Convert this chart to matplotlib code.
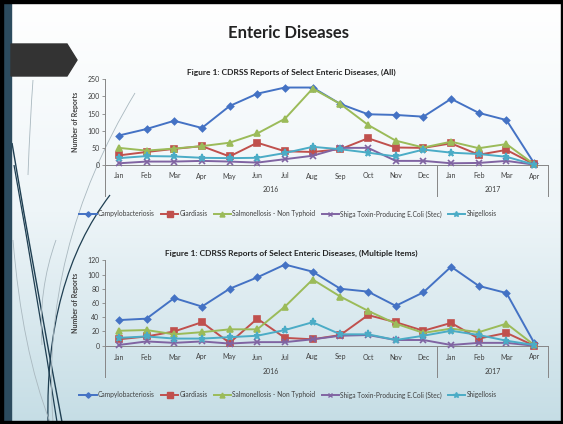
import numpy as np
import matplotlib
matplotlib.use("Agg")
import matplotlib.pyplot as plt
from matplotlib.path import Path
from matplotlib.patches import PathPatch, Polygon, Rectangle
from matplotlib.lines import Line2D

plt.rcParams['font.family'] = ['Lato', 'DejaVu Sans']

months = ["Jan", "Feb", "Mar", "Apr", "May", "Jun", "Jul", "Aug",
          "Sep", "Oct", "Nov", "Dec", "Jan", "Feb", "Mar", "Apr"]
years = ["2016", "2017"]
year_len = [12, 4]
series_names = ["Campylobacteriosis", "Giardiasis", "Salmonellosis - Non Typhoid",
                "Shiga Toxin-Producing E.Coli (Stec)", "Shigellosis"]

# Figure 1 (All)
all_campy = [86, 105, 129, 108, 172, 208, 226, 226, 178, 148, 146, 141, 193, 152, 131, 5]
all_giard = [28, 38, 47, 55, 25, 65, 40, 38, 46, 78, 51, 50, 63, 30, 44, 2]
all_salmo = [50, 42, 48, 55, 65, 92, 135, 223, 178, 117, 71, 51, 68, 49, 61, 2]
all_shiga = [5, 10, 10, 12, 10, 7, 17, 27, 50, 50, 12, 12, 5, 6, 12, 1]
all_shige = [20, 26, 25, 21, 20, 21, 35, 53, 46, 36, 25, 45, 36, 32, 24, 1]

# Figure 1 (Multiple Items)
multi_campy = [36, 38, 67, 55, 80, 96, 114, 104, 80, 76, 56, 75, 111, 84, 74, 4]
multi_giard = [9, 13, 20, 33, 4, 38, 11, 9, 15, 43, 33, 21, 32, 10, 18, 0]
multi_salmo = [21, 22, 16, 19, 23, 23, 55, 93, 69, 49, 31, 18, 24, 19, 31, 1]
multi_shiga = [1, 6, 4, 6, 3, 5, 5, 9, 14, 15, 8, 8, 1, 4, 4, 0]
multi_shige = [11, 13, 10, 10, 12, 14, 22, 33, 16, 16, 8, 14, 21, 15, 7, 1]

colors = ["#4472C4", "#C0504D", "#9BBB59", "#8064A2", "#4BACC6"]
markers = ["D", "s", "^", "x", "*"]
msizes = [3.2, 4.8, 4.2, 4.2, 5.2]

W, H = 563, 424
fig = plt.figure(figsize=(W / 100, H / 100), dpi=100)

# slide background
bg = fig.add_axes([0, 0, 1, 1])
bg.set_xlim(0, W)
bg.set_ylim(H, 0)
bg.axis("off")
grad = np.linspace(0, 1, 256).reshape(-1, 1)
cmap = matplotlib.colors.LinearSegmentedColormap.from_list(
    "slide", ["#ffffff", "#eef5f8", "#c5dde5"])
bg.imshow(grad, cmap=cmap, extent=[0, W, H, 0], aspect="auto", zorder=0)

# decorative curves on the left
dark, light = "#1f3f52", "#a9b8bf"
curves = [
    ((12, 143), (35, 280), (62, 422), dark, 1.0),
    ((14, 165), (38, 300), (57, 422), dark, 0.9),
    ((110, 195), (45, 280), (48, 422), dark, 0.9),
    ((33, 80), (30, 120), (28, 175), light, 0.6),
    ((135, 93), (40, 250), (53, 422), light, 0.6),
    ((56, 240), (38, 290), (42, 345), light, 0.6),
    ((13, 240), (22, 350), (50, 422), light, 0.6),
]
for p0, p1, p2, c, lw in curves:
    path = Path([p0, p1, p2], [Path.MOVETO, Path.CURVE3, Path.CURVE3])
    bg.add_patch(PathPatch(path, fill=False, edgecolor=c, lw=lw, zorder=1))

bg.add_patch(Rectangle((3, 0), 8, H, color="#2c4b5e", zorder=2))
bg.add_patch(Rectangle((0, 0), 3, H, color="black", zorder=3))
bg.add_patch(Rectangle((0, 0), W, 3, color="black", zorder=3))
bg.add_patch(Rectangle((0, H - 3), W, 3, color="black", zorder=3))
bg.add_patch(Rectangle((W - 2, 0), 2, H, color="black", zorder=3))
bg.add_patch(Polygon([(11, 44), (67, 44), (77, 60), (67, 76), (11, 76)],
                     closed=True, color="#333333", zorder=3))

bg.text(289, 33, "Enteric Diseases", ha="center", va="center",
        fontsize=12, fontweight="bold", color="#222222")


def draw_chart(top, bottom, ymax, ystep, data, title, title_y,
               month_y, year_y, sep_y, legend_y):
    left, right = 105, 548
    ax = fig.add_axes([left / W, (H - bottom) / H, (right - left) / W, (bottom - top) / H])
    ax.patch.set_alpha(0)
    x = np.arange(len(months))
    for vals, c, m, ms in zip(data, colors, markers, msizes):
        ax.plot(x, vals, color=c, lw=1.4, marker=m, ms=ms, mew=1.2,
                mec=c, mfc=c, clip_on=False, zorder=4)
    ax.set_xlim(-0.5, len(months) - 0.5)
    ax.set_ylim(0, ymax)
    ax.set_yticks(np.arange(0, ymax + 1, ystep))
    ax.tick_params(axis="y", labelsize=5, length=2, width=0.6, color="#868686",
                   pad=2, labelcolor="#404040")
    ax.set_xticks([])
    for s in ["top", "right"]:
        ax.spines[s].set_visible(False)
    ax.spines["left"].set_color("#868686")
    ax.spines["bottom"].set_color("#868686")
    ax.spines["left"].set_linewidth(0.7)
    ax.spines["bottom"].set_linewidth(0.7)

    h = bottom - top
    to_ax = lambda py: (bottom - py) / h
    trans = ax.get_xaxis_transform()
    for i, m in enumerate(months):
        ax.text(i, to_ax(month_y), m, transform=trans, ha="center", va="center",
                fontsize=5, color="#404040")
    start = 0
    bounds = [-0.5]
    for yr, n in zip(years, year_len):
        ax.text(start + (n - 1) / 2, to_ax(year_y), yr, transform=trans,
                ha="center", va="center", fontsize=5, color="#404040")
        start += n
        bounds.append(start - 0.5)
    for b in bounds:
        ax.plot([b, b], [0, to_ax(sep_y)], transform=trans, color="#868686",
                lw=0.7, clip_on=False)
    ax.set_ylabel("Number of Reports", fontsize=5, color="#404040",
                  fontweight="bold", labelpad=6)

    bg.text(291, title_y, title, ha="center", va="center", fontsize=6,
            fontweight="bold", color="#222222")

    handles = [Line2D([0], [0], color=c, lw=1.4, marker=m, ms=ms * 0.85, mec=c, mfc=c)
               for c, m, ms in zip(colors, markers, msizes)]
    fig.legend(handles, series_names, loc="center",
               bbox_to_anchor=(288 / W, (H - legend_y) / H), ncol=5,
               frameon=False, fontsize=4.8, handlelength=2.6, handletextpad=0.2,
               columnspacing=0.9, labelcolor="#404040")


draw_chart(79.3, 165, 250, 50,
           [all_campy, all_giard, all_salmo, all_shiga, all_shige],
           "Figure 1: CDRSS Reports of Select Enteric Diseases, (All)", 72,
           176, 190, 196, 214)
draw_chart(260.3, 345.7, 120, 20,
           [multi_campy, multi_giard, multi_salmo, multi_shiga, multi_shige],
           "Figure 1: CDRSS Reports of Select Enteric Diseases, (Multiple Items)", 253,
           357, 371, 377, 395)

fig.savefig("out.png", dpi=100)
